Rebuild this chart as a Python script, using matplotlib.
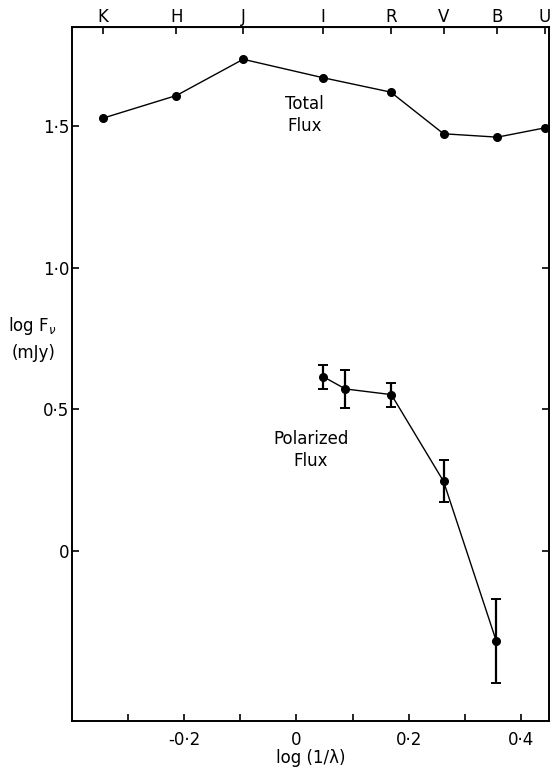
import matplotlib.pyplot as plt

# photometric bands along the top axis, at log(1/lambda) with lambda in microns
band_names = ['K', 'H', 'J', 'I', 'R', 'V', 'B', 'U']
band_x = [-0.345, -0.214, -0.095, 0.047, 0.168, 0.262, 0.358, 0.443]

# total flux, one point per band
total_flux = [1.528, 1.608, 1.736, 1.671, 1.620, 1.473, 1.461, 1.494]

# polarized flux with 1-sigma errors
pol_x = [0.048, 0.087, 0.169, 0.262, 0.356]
pol_flux = [0.615, 0.572, 0.552, 0.246, -0.318]
pol_err = [0.043, 0.068, 0.042, 0.074, 0.148]

bottom_ticks = [-0.3, -0.2, -0.1, 0.0, 0.1, 0.2, 0.3, 0.4]
bottom_labels = ['', '-0·2', '', '0', '', '0·2', '', '0·4']
left_ticks = [0.0, 0.5, 1.0, 1.5]
left_labels = ['0', '0·5', '1·0', '1·5']

plt.rcParams['font.family'] = 'DejaVu Sans'
fig = plt.figure(figsize=(5.54, 7.71), dpi=100)
ax = fig.add_axes([0.130, 0.065, 0.861, 0.900])

ax.plot(band_x, total_flux, color='black', lw=1.0, marker='o', markersize=5.5)
ax.errorbar(pol_x, pol_flux, yerr=pol_err, color='black', lw=1.0,
            marker='o', markersize=5.5, elinewidth=1.6, capsize=3.5, capthick=1.4)

ax.set_xlim(-0.40, 0.45)
ax.set_ylim(-0.60, 1.85)

for s in ax.spines.values():
    s.set_linewidth(1.4)

ax.set_xticks(bottom_ticks)
ax.set_xticklabels(bottom_labels, fontsize=12)
ax.set_yticks(left_ticks)
ax.set_yticklabels(left_labels, fontsize=12)
ax.tick_params(axis='both', direction='in', length=5, width=1.2)
ax.tick_params(axis='y', right=True, pad=2)
ax.tick_params(axis='x', pad=7)

top = ax.secondary_xaxis('top')
top.set_xticks(band_x)
top.set_xticklabels(band_names, fontsize=12)
top.tick_params(direction='in', length=5, width=1.2, pad=1)

ax.set_xlabel('log (1/λ)', fontsize=12, labelpad=0)
fig.text(0.058, 0.577, 'log F$_\\nu$', fontsize=12, ha='center', va='center')
fig.text(0.060, 0.542, '(mJy)', fontsize=12, ha='center', va='center')

ax.text(0.014, 1.54, 'Total\nFlux', fontsize=12, ha='center', va='center',
        linespacing=1.25)
ax.text(0.026, 0.356, 'Polarized\nFlux', fontsize=12, ha='center', va='center',
        linespacing=1.25)

fig.savefig('out.png', dpi=100)
